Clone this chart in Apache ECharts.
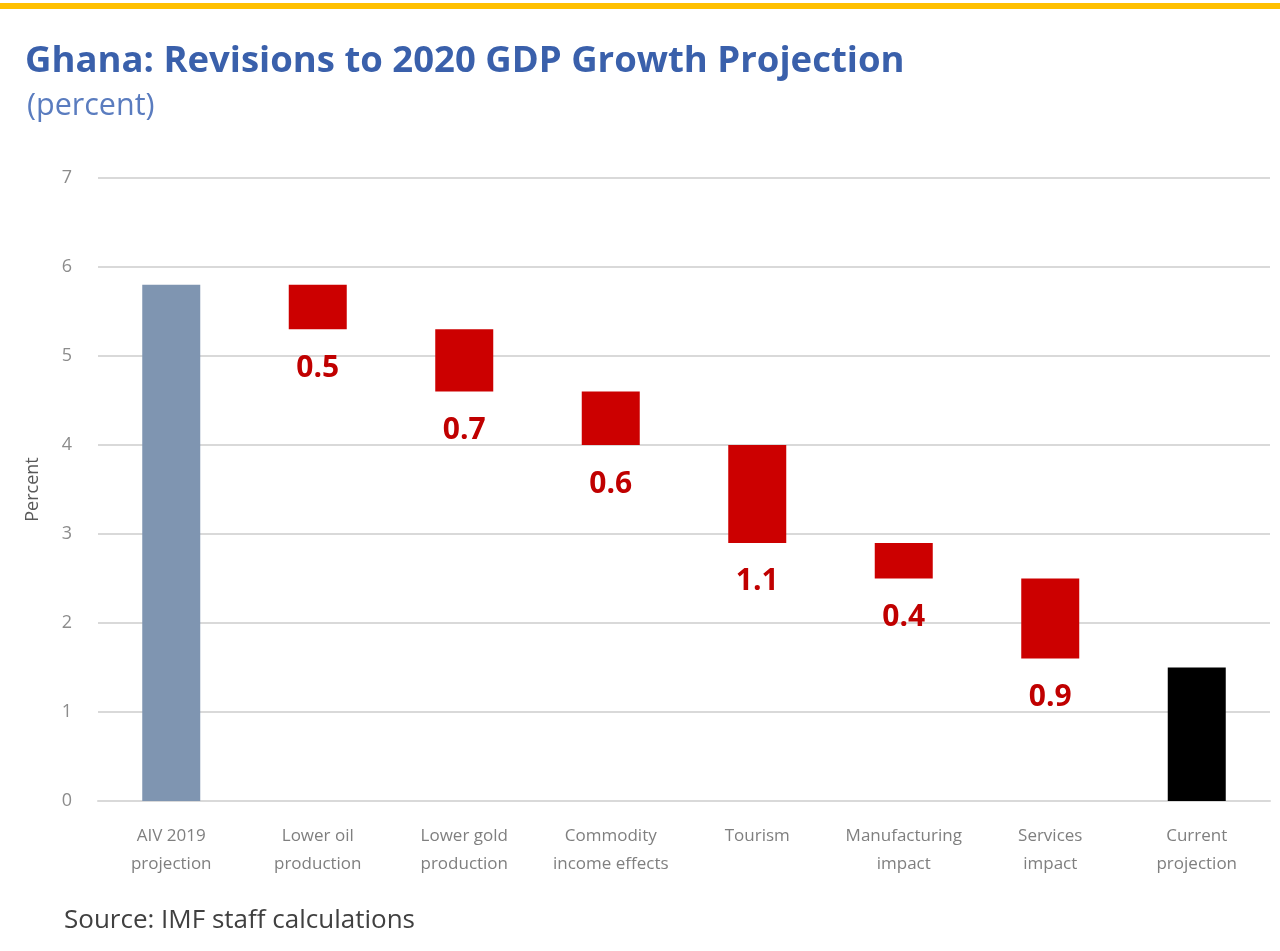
<!DOCTYPE html>
<html>
<head>
<meta charset="utf-8">
<title>Ghana: Revisions to 2020 GDP Growth Projection</title>
<script src="https://cdn.jsdelivr.net/npm/echarts@6/dist/echarts.min.js"></script>
<style>
  html, body { margin: 0; padding: 0; background: #ffffff; }
  #chart { width: 1280px; height: 951px; }
</style>
</head>
<body>
<div id="chart"></div>
<script>
// Waterfall categories, left to right
const categories = [
  'AIV 2019\nprojection',
  'Lower oil\nproduction',
  'Lower gold\nproduction',
  'Commodity\nincome effects',
  'Tourism',
  'Manufacturing\nimpact',
  'Services\nimpact',
  'Current\nprojection'
];
// Starting projection (percent)
const startProjection = 5.8;
// Downward revisions, one per factor (percentage points)
const revisions = [0.5, 0.7, 0.6, 1.1, 0.4, 0.9];
// Current projection (percent)
const currentProjection = 1.5;
// Y axis range
const yMin = 0;
const yMax = 7;
const yStep = 1;

// Build invisible bases and visible segments for the waterfall
const baseData = [0];
const segmentData = [startProjection];
let level = startProjection;
revisions.forEach(function (r) {
  level = +(level - r).toFixed(2);
  baseData.push(level);
  segmentData.push(r);
});
baseData.push(0);
segmentData.push(currentProjection);

const colorStart = '#7f95b1';
const colorDrop = '#cc0000';
const colorEnd = '#000000';

const segmentItems = segmentData.map(function (v, i) {
  let color = colorDrop;
  if (i === 0) color = colorStart;
  if (i === segmentData.length - 1) color = colorEnd;
  const item = { value: v, itemStyle: { color: color } };
  if (i === 0 || i === segmentData.length - 1) {
    item.label = { show: false };
  }
  return item;
});

const chart = echarts.init(document.getElementById('chart'), null, { renderer: 'canvas' });

chart.setOption({
  backgroundColor: '#ffffff',
  animation: false,
  title: [
    {
      text: 'Ghana: Revisions to 2020 GDP Growth Projection',
      left: 20,
      top: 38,
      textStyle: {
        fontFamily: 'Open Sans',
        fontWeight: 'bold',
        fontSize: 36.5,
        color: '#3a60ab'
      }
    },
    {
      text: '(percent)',
      left: 22,
      top: 86,
      textStyle: {
        fontFamily: 'Open Sans',
        fontWeight: 'normal',
        fontSize: 30.5,
        color: '#5a7cbf'
      }
    }
  ],
  graphic: [
    {
      type: 'rect',
      left: 0,
      top: 3,
      shape: { width: 1280, height: 6 },
      style: { fill: '#ffc000' }
    },
    {
      type: 'text',
      left: 64,
      top: 908,
      style: {
        text: 'Source: IMF staff calculations',
        fontFamily: 'Open Sans',
        fontSize: 26,
        fill: '#404040'
      }
    }
  ],
  grid: {
    left: 98,
    right: 10,
    top: 178,
    bottom: 150,
    containLabel: false
  },
  xAxis: {
    type: 'category',
    data: categories,
    axisLine: { show: true, lineStyle: { color: '#d9d9d9', width: 2 } },
    axisTick: { show: false },
    axisLabel: {
      interval: 0,
      margin: 21,
      fontFamily: 'Open Sans',
      fontSize: 17,
      lineHeight: 28,
      color: '#7f7f7f'
    }
  },
  yAxis: {
    type: 'value',
    min: yMin,
    max: yMax,
    interval: yStep,
    name: 'Percent',
    nameLocation: 'middle',
    nameRotate: 90,
    nameGap: 56,
    nameTextStyle: {
      fontFamily: 'Open Sans',
      fontSize: 18,
      color: '#595959'
    },
    axisLine: { show: false },
    axisTick: { show: false },
    axisLabel: {
      margin: 26,
      fontFamily: 'Open Sans',
      fontSize: 18,
      color: '#8c8c8c'
    },
    splitLine: { show: true, lineStyle: { color: '#d9d9d9', width: 2 } }
  },
  series: [
    {
      name: 'base',
      type: 'bar',
      stack: 'waterfall',
      barWidth: 58,
      silent: true,
      itemStyle: { color: 'transparent' },
      data: baseData
    },
    {
      name: 'change',
      type: 'bar',
      stack: 'waterfall',
      barWidth: 58,
      data: segmentItems,
      label: {
        show: true,
        position: 'bottom',
        distance: 24,
        fontFamily: 'Open Sans',
        fontWeight: 'bold',
        fontSize: 30,
        color: '#c00000',
        formatter: function (p) { return p.value.toFixed(1); }
      }
    }
  ]
});
</script>
</body>
</html>
